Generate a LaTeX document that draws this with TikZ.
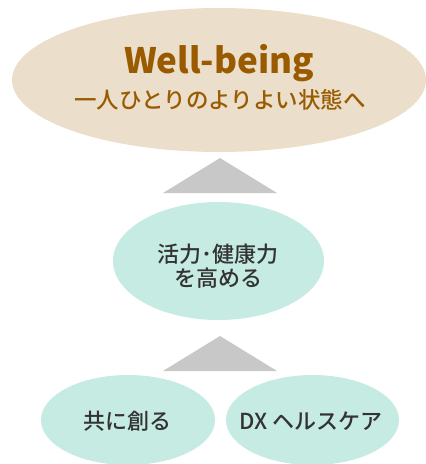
\documentclass[tikz,border=0pt]{standalone}
\usepackage{fontspec}
\setmainfont{Noto Sans CJK JP}
\newfontfamily\jp{Noto Sans CJK JP}
\newfontfamily\jpm{Noto Sans CJK JP Medium}
\usetikzlibrary{shapes.geometric}
\definecolor{beige}{HTML}{EBDFCC}
\definecolor{brownt}{HTML}{9A5B00}
\definecolor{mint}{HTML}{C5EBE2}
\definecolor{tri}{HTML}{C8C8C8}
\definecolor{ink}{HTML}{333333}
\tikzset{
  oval/.style={ellipse, fill=mint, inner sep=0pt},
  label/.style={text=ink, align=center, inner sep=0pt, font=\jpm\fontsize{22}{23.5}\selectfont}
}
\begin{document}
\begin{tikzpicture}[x=1pt,y=-1pt]
\useasboundingbox (0,0) rectangle (426,464);
% top ellipse
\node[oval, fill=beige, minimum width=414pt, minimum height=144pt] (top) at (219,80) {};
\node[text=brownt, inner sep=0pt, font=\jp\bfseries\fontsize{35}{40}\selectfont] (title) at (219,63) {Well-being};
\node[text=brownt, inner sep=0pt, font=\jpm\fontsize{22.5}{24}\selectfont] (sub) at (220,100) {一人ひとりのよりよい状態へ};
% triangle 1
\coordinate (t1a) at (220,158);
\coordinate (t1l) at (163,193);
\coordinate (t1r) at (277,193);
\fill[tri] (t1a) -- (t1l) -- (t1r) -- cycle;
% middle
\node[oval, minimum width=211pt, minimum height=118pt] (mid) at (218.5,261) {};
\node[label] (midt) at (218,266) {活力･健康力\\を高める};
% triangle 2
\coordinate (t2a) at (220,336);
\coordinate (t2l) at (163,371);
\coordinate (t2r) at (277,371);
\fill[tri] (t2a) -- (t2l) -- (t2r) -- cycle;
% bottom
\node[oval, minimum width=174pt, minimum height=90pt] (bl) at (128,420) {};
\node[label] (blt) at (127.5,421) {共に創る};
\node[oval, minimum width=173pt, minimum height=90pt] (br) at (312.5,420) {};
\node[label] (brt) at (311,421) {DX ヘルスケア};
\end{tikzpicture}
\end{document}
